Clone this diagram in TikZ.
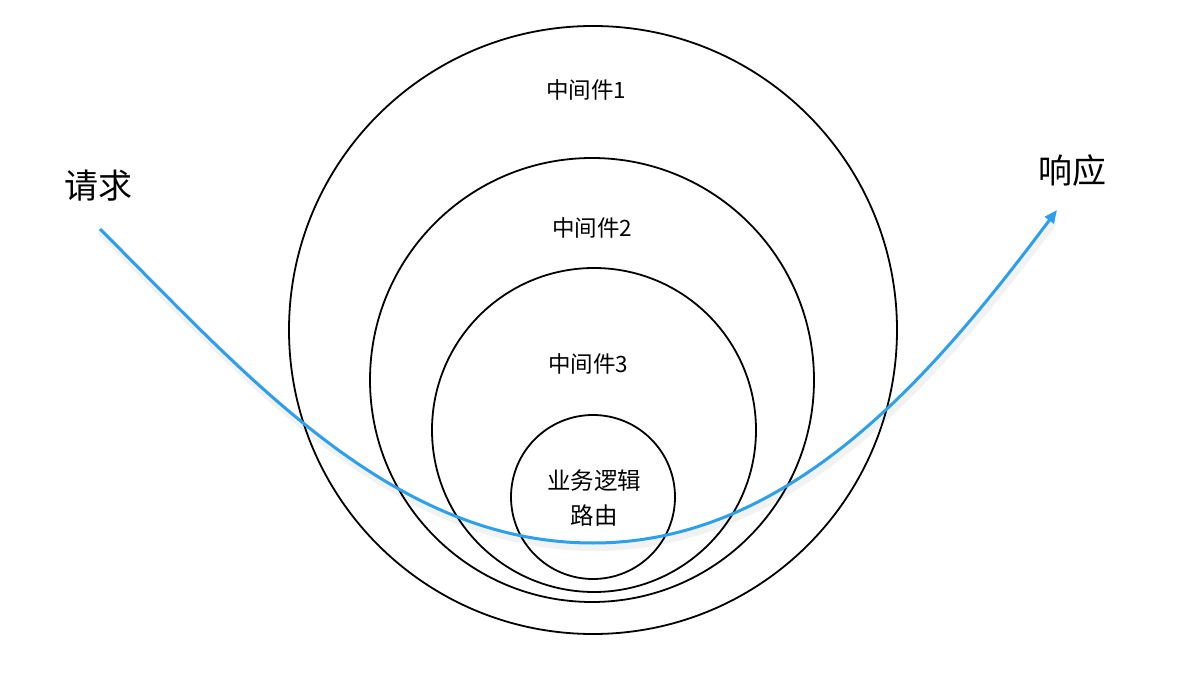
\documentclass[tikz,border=0pt]{standalone}
\usepackage{fontspec}
\newfontfamily\cjk{Noto Sans CJK SC}
\usetikzlibrary{arrows.meta}
\definecolor{flowblue}{RGB}{45,160,236}
\tikzset{
  ring/.style={draw=black, line width=1.8pt, circle},
  lbl/.style={font=\cjk\fontsize{22.5}{26}\selectfont, inner sep=0pt},
  biglbl/.style={font=\cjk\fontsize{34}{40}\selectfont, inner sep=0pt},
  flow/.style={draw=flowblue, line width=3pt, -{Triangle[length=13pt,width=11pt]}},
  flowshadow/.style={draw=black, opacity=0.05, line width=8pt, line cap=round}
}
\begin{document}
\begin{tikzpicture}[x=1pt,y=-1pt]
\useasboundingbox (0,0) rectangle (1202,676);
\fill[white] (0,0) rectangle (1202,676);
% rings
\node[ring, minimum size=608pt] (m1) at (593,330) {};
\node[ring, minimum size=444pt] (m2) at (592,380) {};
\node[ring, minimum size=324pt] (m3) at (594,430) {};
\node[ring, minimum size=164pt] (core) at (593,497) {};
% labels
\node[lbl] (t1) at (586,90) {中间件1};
\node[lbl] (t2) at (592,228) {中间件2};
\node[lbl] (t3) at (588,364) {中间件3};
\node[lbl, align=center, font=\cjk\fontsize{23.5}{35}\selectfont] (t4) at (594,498) {业务逻辑\\路由};
\node[biglbl] (req) at (98,186) {请求};
\node[biglbl] (resp) at (1072,171) {响应};
% flow
\coordinate (s) at (100,229);
\coordinate (b) at (593,543);
\coordinate (e) at (1057,210);
\path[flowshadow] ([shift={(2,4)}]s) .. controls ([shift={(2,4)}]250,379) and ([shift={(2,4)}]393,543) .. ([shift={(2,4)}]b)
  .. controls ([shift={(2,4)}]793,543) and ([shift={(2,4)}]937,370) .. ([shift={(2,4)}]1050,220);
\draw[flow] (s) .. controls (250,379) and (393,543) .. (b)
  .. controls (793,543) and (937,370) .. (e);
\end{tikzpicture}
\end{document}
